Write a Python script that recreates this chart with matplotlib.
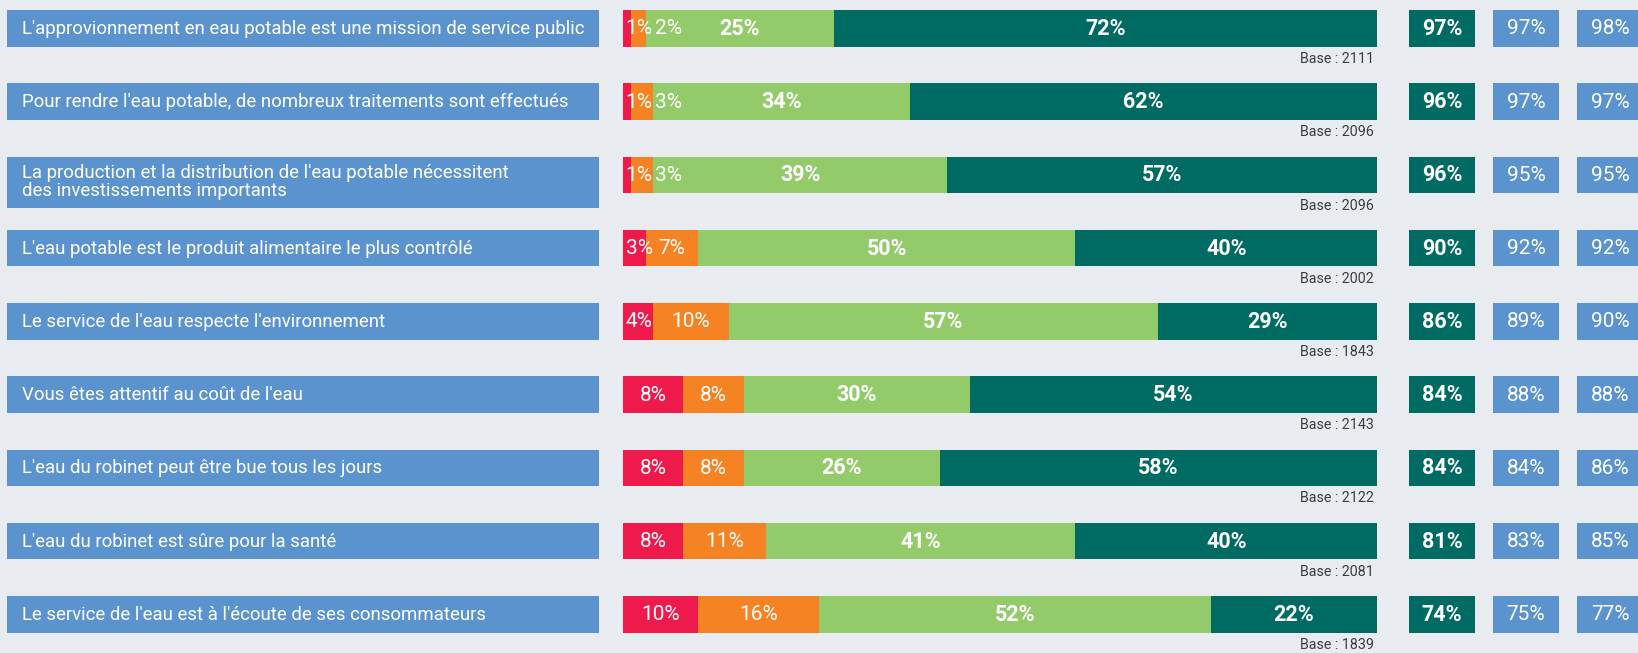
import matplotlib
matplotlib.use('Agg')
import matplotlib.pyplot as plt
import numpy as np

plt.rcParams['font.family'] = ['Roboto', 'DejaVu Sans']

# ---------------------------------------------------------------------------
# Data
# ---------------------------------------------------------------------------
labels = [
    "L'approvionnement en eau potable est une mission de service public",
    "Pour rendre l'eau potable, de nombreux traitements sont effectués",
    "La production et la distribution de l'eau potable nécessitent\ndes investissements importants",
    "L'eau potable est le produit alimentaire le plus contrôlé",
    "Le service de l'eau respecte l'environnement",
    "Vous êtes attentif au coût de l'eau",
    "L'eau du robinet peut être bue tous les jours",
    "L'eau du robinet est sûre pour la santé",
    "Le service de l'eau est à l'écoute de ses consommateurs",
]
pas_du_tout = [1, 1, 1, 3, 4, 8, 8, 8, 10]
plutot_pas = [2, 3, 3, 7, 10, 8, 8, 11, 16]
plutot = [25, 34, 39, 50, 57, 30, 26, 41, 52]
tout_a_fait = [72, 62, 57, 40, 29, 54, 58, 40, 22]
bases = [2111, 2096, 2096, 2002, 1843, 2143, 2122, 2081, 1839]
total_accord = [97, 96, 96, 90, 86, 84, 84, 81, 74]
prev_1 = [97, 97, 95, 92, 89, 88, 84, 83, 75]
prev_2 = [98, 97, 95, 92, 90, 88, 86, 85, 77]

# ---------------------------------------------------------------------------
# Style / layout (pixels)
# ---------------------------------------------------------------------------
BG = '#E8EBF0'
BLUE = '#5B93CE'
RED = '#EE1A4C'
ORANGE = '#F58323'
GREEN = '#93CB6A'
TEAL = '#006B63'
seg_colors = [RED, ORANGE, GREEN, TEAL]

W, H = 1638, 653
ROW_TOP0, ROW_STEP, BAR_H = 10, 73.25, 36.7
BAR_X0, BAR_X1 = 623, 1377
PX_PER_PCT = (BAR_X1 - BAR_X0) / 100.0

fig = plt.figure(figsize=(W / 100, H / 100), dpi=100)
fig.patch.set_facecolor(BG)

ax = fig.add_axes([0, 0, 1, 1])
ax.set_xlim(0, W); ax.set_ylim(H, 0); ax.axis('off')

axb = fig.add_axes([BAR_X0 / W, 0, (BAR_X1 - BAR_X0) / W, 1])
axb.set_xlim(0, 100); axb.set_ylim(H, 0); axb.axis('off')

renderer = fig.canvas.get_renderer()

n = len(labels)
tops = ROW_TOP0 + ROW_STEP * np.arange(n)
centers = tops + BAR_H / 2

# left label boxes
for i, lab in enumerate(labels):
    h = 51 if '\n' in lab else BAR_H
    yc = tops[i] + h / 2
    ax.barh(yc, 592, left=7, height=h, color=BLUE)
    ax.text(22, yc + 0.5, lab, ha='left', va='center', color='white',
            fontsize=13.4, linespacing=1.0)

# stacked bars
series = np.array([pas_du_tout, plutot_pas, plutot, tout_a_fait]).T
for i in range(n):
    left = 0
    prev_end = 0
    for j, v in enumerate(series[i]):
        axb.barh(centers[i], v, left=left, height=BAR_H, color=seg_colors[j])
        if j < 2:
            t = axb.text(left + v / 2, centers[i] + 0.5, f'{v}%', ha='center', va='center',
                         color='white', fontsize=15, fontweight='normal')
            tw = t.get_window_extent(renderer).width / PX_PER_PCT
            cx = max(left + v / 2, prev_end + 0.35 + tw / 2)
            t.set_x(cx)
            prev_end = cx + tw / 2
        else:
            axb.text(left + v / 2, centers[i] + 0.5, f'{v}%', ha='center', va='center',
                     color='white', fontsize=15.5, fontweight='bold')
        left += v
    axb.text(99.6, tops[i] + BAR_H + 12.3, f'Base : {bases[i]}', ha='right', va='center',
             color='#3d3d3d', fontsize=10.3)

# right-hand boxes
for i in range(n):
    ax.barh(centers[i], 66, left=1409, height=BAR_H, color=TEAL)
    ax.text(1442, centers[i] + 0.5, f'{total_accord[i]}%', ha='center', va='center',
            color='white', fontsize=15.5, fontweight='bold')
    ax.barh(centers[i], 66, left=1493, height=BAR_H, color=BLUE)
    ax.text(1526, centers[i] + 0.5, f'{prev_1[i]}%', ha='center', va='center',
            color='white', fontsize=15, fontweight='normal')
    ax.barh(centers[i], 66, left=1577, height=BAR_H, color=BLUE)
    ax.text(1610, centers[i] + 0.5, f'{prev_2[i]}%', ha='center', va='center',
            color='white', fontsize=15, fontweight='normal')

fig.savefig('out.png', dpi=100, facecolor=BG)
